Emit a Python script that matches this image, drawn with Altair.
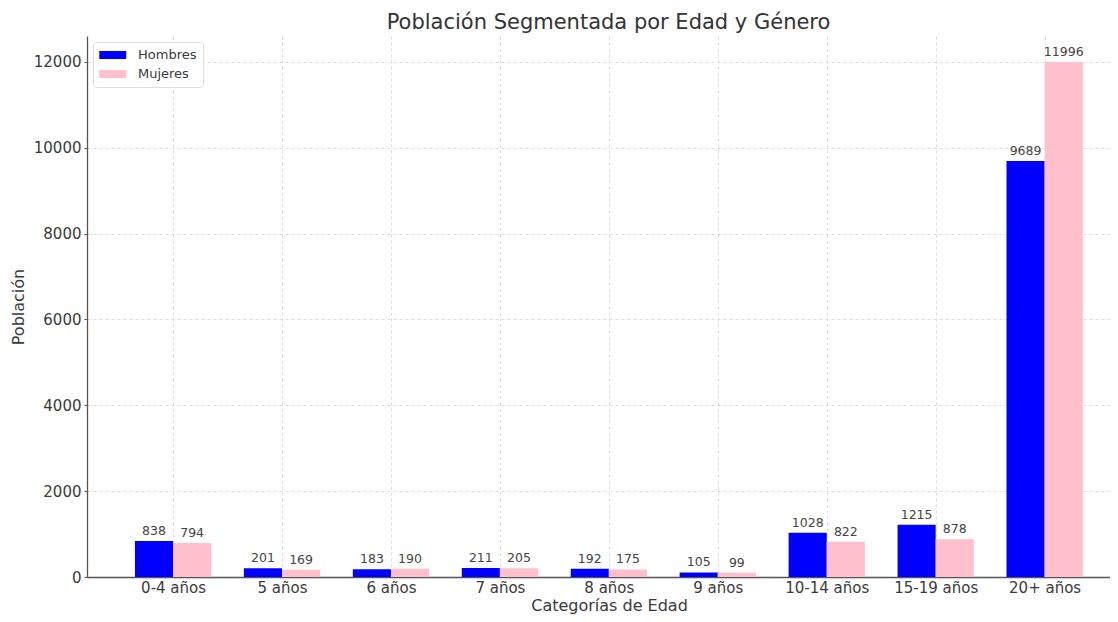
import json
import altair as alt
import pandas as pd

categorias = ["0-4 años", "5 años", "6 años", "7 años", "8 años", "9 años",
              "10-14 años", "15-19 años", "20+ años"]
hombres = [838, 201, 183, 211, 192, 105, 1028, 1215, 9689]
mujeres = [794, 169, 190, 205, 175, 99, 822, 878, 11996]
generos = ["Hombres", "Mujeres"]
colores = ["#0000ff", "#ffc0cb"]
y_ticks = [0, 2000, 4000, 6000, 8000, 10000, 12000]

rows = []
for i, c in enumerate(categorias):
    rows.append({"idx": i, "categoria": c, "genero": "Hombres", "valor": hombres[i]})
    rows.append({"idx": i, "categoria": c, "genero": "Mujeres", "valor": mujeres[i]})
df = pd.DataFrame(rows)

FONT = "DejaVu Sans"
TXT = "#3a3a3a"
W, H = 1023, 541

x_scale = alt.Scale(domain=[-0.79, 8.60], nice=False, zero=False)
y_scale = alt.Scale(domain=[0, 12600], nice=False)
label_expr = json.dumps(categorias, ensure_ascii=False) + "[datum.value]"

x_axis = alt.Axis(values=list(range(len(categorias))), labelExpr=label_expr,
                  title="Categorías de Edad", grid=True, gridDash=[3, 3],
                  gridColor="#d3d3d3", gridWidth=0.8, domainColor="#555555",
                  domainWidth=1.3, ticks=False, labelPadding=3,
                  labelFont=FONT, labelFontSize=15, labelColor=TXT,
                  titleFont=FONT, titleFontSize=16, titleColor=TXT,
                  titleFontWeight="normal", titleX=522, titleY=28,
                  titleBaseline="middle", titleAlign="center")
y_axis = alt.Axis(values=y_ticks, format="d", title="Población", grid=True,
                  gridDash=[3, 3], gridColor="#d3d3d3", gridWidth=0.8,
                  domainColor="#555555", domainWidth=1.3,
                  tickColor="#555555", tickSize=3, labelPadding=3,
                  labelFont=FONT, labelFontSize=15, labelColor=TXT,
                  titleFont=FONT, titleFontSize=16, titleColor=TXT,
                  titleFontWeight="normal", titleX=-69, titleY=H / 2,
                  titleAngle=270, titleBaseline="middle", titleAlign="center")

base = alt.Chart(df).transform_calculate(
    x_start="datum.idx + (datum.genero == 'Hombres' ? -0.35 : 0)"
).transform_calculate(
    x_end="datum.x_start + 0.35",
    x_mid="datum.x_start + 0.175",
)

bars = base.mark_bar().encode(
    x=alt.X("x_start:Q", scale=x_scale, axis=x_axis),
    x2="x_end:Q",
    y=alt.Y("valor:Q", scale=y_scale, axis=y_axis),
    y2=alt.datum(0),
    color=alt.Color("genero:N",
                    scale=alt.Scale(domain=generos, range=colores),
                    legend=alt.Legend(title=None, orient="none", legendX=6,
                                      legendY=6,
                                      symbolType="M-1,-0.6H3V0.6H-1Z",
                                      symbolSize=182, symbolStrokeWidth=0,
                                      labelFont=FONT, labelFontSize=13,
                                      labelColor=TXT, labelOffset=25,
                                      rowPadding=5, padding=6,
                                      strokeColor="#dddddd", fillColor="white",
                                      cornerRadius=3)),
)

labels = base.mark_text(baseline="bottom", dy=-3, font=FONT, fontSize=12.5,
                        color="#444444").encode(
    x=alt.X("x_mid:Q", scale=x_scale, axis=x_axis),
    y=alt.Y("valor:Q", scale=y_scale, axis=y_axis),
    text="valor:Q",
)

chart = alt.layer(bars, labels).properties(
    width=W, height=H,
    title=alt.TitleParams("Población Segmentada por Edad y Género", font=FONT,
                          fontSize=21, fontWeight="normal", color="#333333",
                          anchor="middle", dx=10, offset=3),
    padding={"left": 79, "top": 28, "right": 0, "bottom": 37},
    autosize=alt.AutoSizeParams(type="none"),
).configure_view(stroke=None)

chart.save("out.html", embed_options={"renderer": "svg", "actions": False})
